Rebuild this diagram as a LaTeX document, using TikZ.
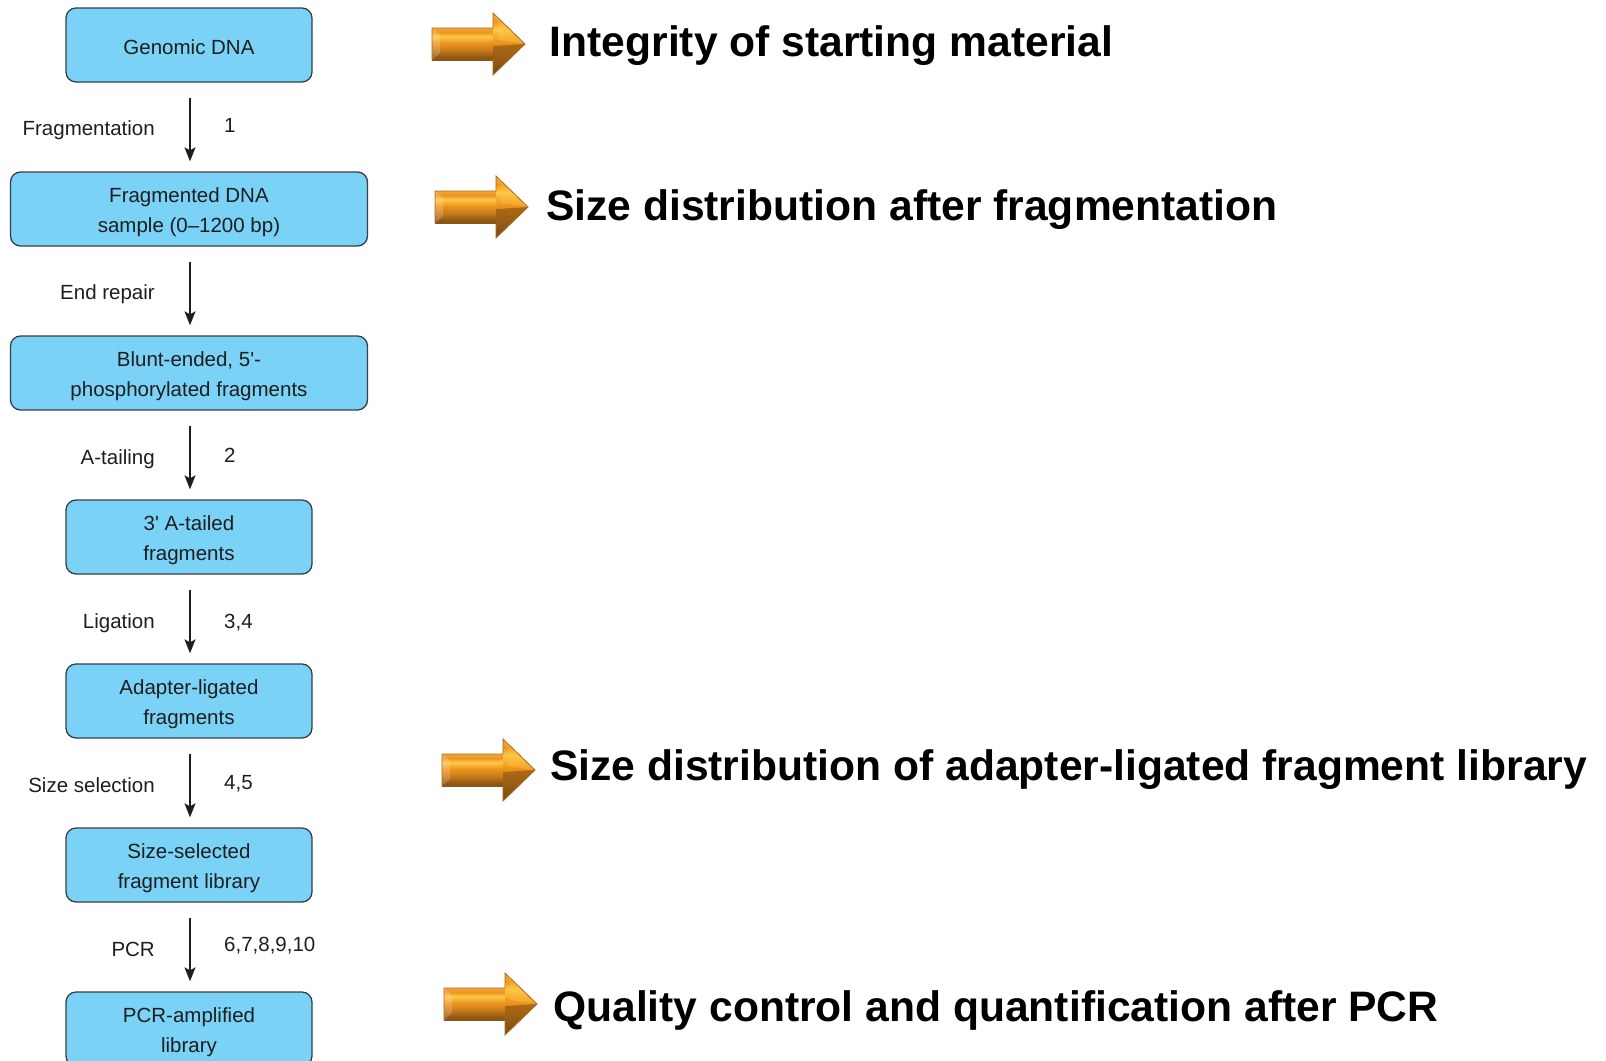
\documentclass[tikz,border=0pt]{standalone}
\usepackage{fontspec}
\setmainfont{Liberation Sans}
\usetikzlibrary{arrows.meta}

\definecolor{boxfill}{RGB}{122,210,246}
\definecolor{boxline}{RGB}{55,62,72}
\definecolor{ink}{RGB}{30,30,30}
% bevelled orange arrow colours, bottom to top
\definecolor{oA}{RGB}{122,74,16}
\definecolor{oB}{RGB}{196,122,26}
\definecolor{oC}{RGB}{238,150,30}
\definecolor{oD}{RGB}{255,200,72}
\definecolor{oE}{RGB}{240,165,58}
\definecolor{oEdge}{RGB}{170,105,30}

\pgfdeclareverticalshading{orangebar}{100bp}{%
  color(0bp)=(oA); color(25bp)=(oA); color(40bp)=(oB); color(52bp)=(oC);
  color(62bp)=(oD); color(68bp)=(oC); color(75bp)=(oE); color(100bp)=(oE)}

% two centred lines whose baseline is the first line
\newcommand\pairlines[3][226pt]{\parbox[t]{#1}{\centering #2\\#3}}

\tikzset{
  box/.style={draw=boxline, fill=boxfill, line width=1.3pt, rounded corners=10pt,
    minimum height=74pt, text=ink, inner sep=0pt,
    font=\fontsize{20.5}{30}\selectfont},
  oneline/.style={text height=18.6pt, text depth=0pt},
  twoline/.style={text height=15pt, text depth=28.4pt},
  narrowbox/.style={box, minimum width=246pt},
  widebox/.style={box, minimum width=357pt},
  flow/.style={-{Stealth[length=14pt,width=11pt,inset=3pt]}, line width=1.5pt,
    draw=ink, shorten <=15pt, shorten >=10pt},
  lbl/.style={text=ink, inner sep=0pt, font=\fontsize{20.5}{24}\selectfont},
  big/.style={text=black, inner sep=0pt, font=\fontsize{42.6}{50}\selectfont\bfseries},
  % bevelled block arrow: origin at the left end, vertical centre
  bigarrow/.pic={
    \shade[shading=orangebar] (0,-16) rectangle (61,16);
    \fill[white, opacity=.18] (0,-16) -- (8,-9) -- (8,9) -- (0,16) -- cycle;
    \shade[shading=orangebar] (61,-31) -- (93,0) -- (61,31) -- cycle;
    \fill[oA, opacity=.55] (61,2) -- (93,0) -- (61,31) -- cycle;
    \fill[oD, opacity=.35] (61,-31) -- (93,0) -- (66,-4) -- (66,-22) -- cycle;
    \draw[oEdge, line width=.8pt, line join=miter]
      (0,-16) -- (61,-16) -- (61,-31) -- (93,0) -- (61,31) -- (61,16) -- (0,16) -- cycle;
  }
}

\begin{document}
\begin{tikzpicture}[x=1pt, y=-1pt]
\useasboundingbox (0,0) rectangle (1606,1060);
\clip (0,0) rectangle (1606,1060);

% protocol steps
\node[narrowbox, oneline] (gdna) at (189,45)  {Genomic DNA};
\node[widebox, twoline]   (frag) at (189,209) {\pairlines[340pt]{Fragmented DNA}{sample (0--1200 bp)}};
\node[widebox, twoline]   (blunt) at (189,373) {\pairlines[340pt]{Blunt-ended, 5\textquotesingle-}{phosphorylated fragments}};
\node[narrowbox, twoline] (atail) at (189,537) {\pairlines{3\textquotesingle\ A-tailed}{fragments}};
\node[narrowbox, twoline] (adapt) at (189,701) {\pairlines{Adapter-ligated}{fragments}};
\node[narrowbox, twoline] (sizesel) at (189,865) {\pairlines{Size-selected}{fragment library}};
\node[narrowbox, twoline] (pcrlib) at (189,1029) {\pairlines{PCR-amplified}{library}};

% connectors between steps
\draw[flow] ([xshift=1pt]gdna.south) -- ([xshift=1pt]frag.north);
\draw[flow] ([xshift=1pt]frag.south) -- ([xshift=1pt]blunt.north);
\draw[flow] ([xshift=1pt]blunt.south) -- ([xshift=1pt]atail.north);
\draw[flow] ([xshift=1pt]atail.south) -- ([xshift=1pt]adapt.north);
\draw[flow] ([xshift=1pt]adapt.south) -- ([xshift=1pt]sizesel.north);
\draw[flow] ([xshift=1pt]sizesel.south) -- ([xshift=1pt]pcrlib.north);

% step names
\node[lbl, anchor=base east] (s1) at (155,135) {Fragmentation};
\node[lbl, anchor=base east] (s2) at (155,299) {End repair};
\node[lbl, anchor=base east] (s3) at (155,464) {A-tailing};
\node[lbl, anchor=base east] (s4) at (155,628) {Ligation};
\node[lbl, anchor=base east] (s5) at (155,792) {Size selection};
\node[lbl, anchor=base east] (s6) at (155,956) {PCR};

% step references
\node[lbl, anchor=base west] (r1) at (224,132) {1};
\node[lbl, anchor=base west] (r3) at (224,462) {2};
\node[lbl, anchor=base west] (r4) at (224,628) {3,4};
\node[lbl, anchor=base west] (r5) at (224,789) {4,5};
\node[lbl, anchor=base west] (r6) at (224,951) {6,7,8,9,10};

% quality checkpoints
\pic at (432,44) {bigarrow};
\pic at (435,207) {bigarrow};
\pic at (442,770) {bigarrow};
\pic at (444,1004) {bigarrow};

\node[big, anchor=base west] (q1) at (549.5,56) {Integrity of starting material};
\node[big, anchor=base west] (q2) at (546,220) {Size distribution after fragmentation};
\node[big, anchor=base west] (q3) at (550,780) {Size distribution of adapter-ligated fragment library};
\node[big, anchor=base west] (q4) at (553,1021) {Quality control and quantification after PCR};
\end{tikzpicture}
\end{document}
